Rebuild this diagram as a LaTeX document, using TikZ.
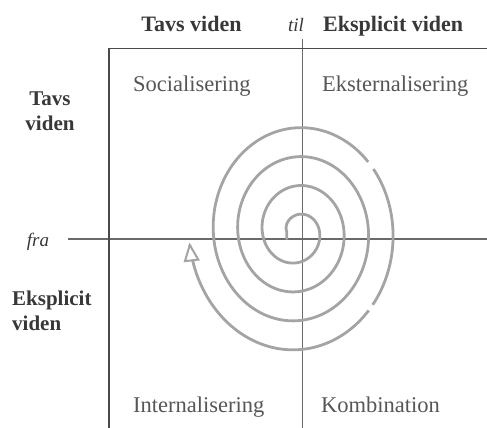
\documentclass[tikz,border=0pt]{standalone}
\usepackage{fontspec}
\setmainfont{Liberation Serif}
\usetikzlibrary{arrows.meta}
\definecolor{framegray}{HTML}{4A4A4A}
\definecolor{axisgray}{HTML}{6A6A6A}
\definecolor{spiralgray}{HTML}{A4A4A4}
\definecolor{textgray}{HTML}{383838}
\tikzset{
  head/.style={font=\fontsize{22}{25}\selectfont\bfseries, text=textgray, inner sep=0pt},
  side/.style={font=\fontsize{21}{25}\selectfont\bfseries, text=textgray, inner sep=0pt},
  mode/.style={font=\fontsize{22.5}{25}\selectfont, text=textgray!85, inner sep=0pt, anchor=base west},
  dirlabel/.style={font=\fontsize{19}{22}\selectfont\itshape, text=textgray, inner sep=0pt, anchor=base},
  framerule/.style={draw=framegray, line width=1.8pt},
  axisrule/.style={draw=axisgray, line width=1.2pt},
  spiralline/.style={draw=spiralgray, line width=2.8pt},
}
% Elliptic Archimedean spiral, parameter t in turns
\newcommand{\spx}[1]{297-(10.25+24.5*#1)*cos(360*#1)}
\newcommand{\spy}[1]{231.5-(9.5+29*#1)*sin(360*#1)}
\begin{document}
\begin{tikzpicture}[x=1pt,y=-1pt]
\useasboundingbox (0,0) rectangle (487,428);

% frame and axes
\coordinate (tl) at (109,48.5);
\coordinate (tr) at (487,48.5);
\coordinate (bl) at (109,428);
\coordinate (vtop) at (302.5,39);
\coordinate (vbot) at (302.5,428);
\coordinate (hleft) at (68,239);
\coordinate (hright) at (487,239);
\draw[axisrule] (vtop) -- (vbot);
\draw[axisrule] (hleft) -- (hright);
\draw[framerule] (bl) -- (tl) -- (tr);

% spiral, starting on the horizontal axis, with two small breaks in the outer turn
\coordinate (spstart) at (286.75,239.5);
\draw[spiralline] (spstart) -- plot[domain=0:3.392, samples=500] ({\spx{\x}}, {\spy{\x}});
\draw[spiralline] plot[domain=3.402:3.611, samples=60] ({\spx{\x}}, {\spy{\x}});
\draw[spiralline, -{Triangle[open, fill=white, length=19pt, width=16pt, line width=2pt]}]
  plot[domain=3.621:3.986, samples=120] ({\spx{\x}}, {\spy{\x}});

% headers
\node[head, anchor=base] (htacit) at (191.5,32) {Tavs viden};
\node[dirlabel] (til) at (296,32) {til};
\node[head, anchor=base west] (hexpl) at (323,32) {Eksplicit viden};
\node[side, anchor=base, align=center] (stacit) at (50,130) {Tavs\\viden};
\node[side, anchor=base west, align=left] (sexpl) at (12,330) {Eksplicit\\viden};
\node[dirlabel] (fra) at (38,246) {fra};

% quadrant labels
\node[mode] (soc) at (133,92) {Socialisering};
\node[mode] (ext) at (322,92) {Eksternalisering};
\node[mode] (int) at (133,412) {Internalisering};
\node[mode] (kom) at (321,412) {Kombination};
\end{tikzpicture}
\end{document}
